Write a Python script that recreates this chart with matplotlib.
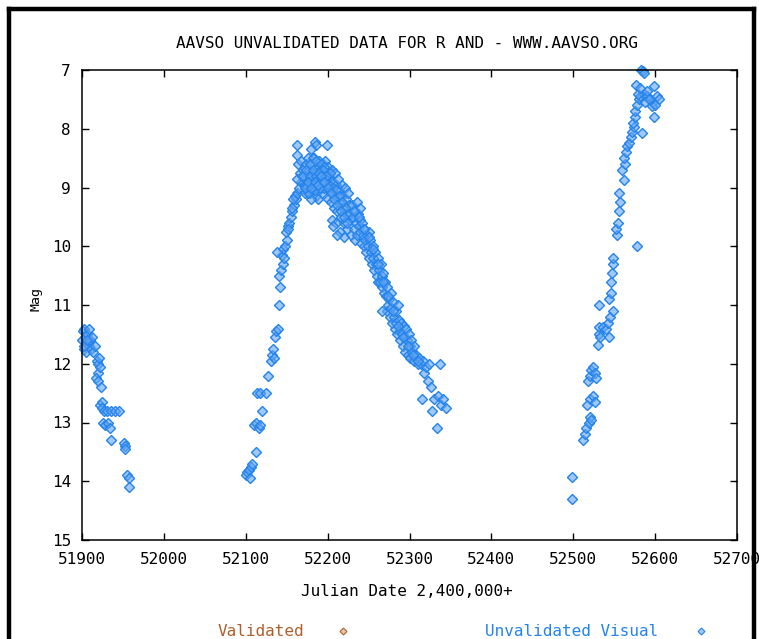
import matplotlib
matplotlib.use("Agg")
import matplotlib.pyplot as plt
from matplotlib.lines import Line2D

# AAVSO light curve of R And
season1_jd = [51900, 51901, 51902, 51903, 51904, 51905, 51906, 51907, 51908, 51909,
              51910, 51911, 51912, 51914, 51916, 51918, 51920, 51921, 51919, 51922,
              51917, 51920, 51923, 51922, 51924, 51925, 51927, 51931, 51935, 51940,
              51945, 51926, 51928, 51932, 51934, 51935, 51951, 51953, 51952, 51955,
              51957, 51958, 51903, 51906]
season1_mag = [11.6, 11.45, 11.75, 11.4, 11.55, 11.8, 11.5, 11.65, 11.7, 11.4,
               11.6, 11.75, 11.55, 11.8, 11.7, 11.95, 12.0, 11.9, 12.15, 12.05,
               12.25, 12.3, 12.4, 12.7, 12.65, 12.75, 12.8, 12.8, 12.8, 12.8,
               12.8, 13.0, 13.05, 13.0, 13.1, 13.3, 13.35, 13.4, 13.45, 13.9,
               13.95, 14.1, 11.7, 11.6]

rise_jd = [52100, 52102, 52104, 52105, 52107, 52108, 52113, 52110, 52112, 52116,
           52118, 52120, 52114, 52117, 52125, 52127, 52131, 52132, 52133, 52134,
           52136, 52137, 52139, 52140, 52142, 52141, 52143, 52145, 52144, 52146,
           52148, 52150, 52149, 52151, 52153, 52155, 52157, 52159, 52161, 52163,
           52165, 52160, 52167, 52166, 52164, 52163, 52163, 52138, 52147, 52152,
           52156, 52158, 52162]
rise_mag = [13.9, 13.85, 13.8, 13.95, 13.75, 13.7, 13.5, 13.05, 13.0, 13.1,
            13.05, 12.8, 12.5, 12.5, 12.5, 12.2, 11.95, 11.85, 11.75, 11.9,
            11.55, 11.45, 11.4, 11.0, 10.7, 10.5, 10.4, 10.3, 10.15, 10.05,
            10.0, 9.9, 9.75, 9.65, 9.6, 9.5, 9.4, 9.3, 9.2, 9.1,
            9.0, 9.15, 8.9, 8.75, 8.6, 8.45, 8.28, 10.1, 10.2, 9.7,
            9.35, 9.2, 8.85]

peak_jd = [52168, 52170, 52171, 52172, 52173, 52174, 52175, 52176, 52177, 52178,
           52179, 52180, 52181, 52182, 52183, 52184, 52185, 52186, 52187, 52188,
           52189, 52190, 52191, 52192, 52193, 52194, 52195, 52196, 52197, 52198,
           52199, 52200, 52201, 52202, 52203, 52204, 52205, 52206, 52207, 52208,
           52209, 52210, 52211, 52212, 52213, 52214, 52215, 52216, 52217, 52218,
           52219, 52220, 52221, 52222, 52223, 52224, 52225, 52226, 52227, 52228,
           52182, 52178, 52186, 52192, 52196, 52188, 52180, 52184, 52191, 52176,
           52172, 52169, 52174, 52205, 52210, 52215, 52220, 52212, 52207, 52184,
           52186, 52199, 52180, 52189, 52194, 52197, 52203, 52201,
           52170, 52174, 52178, 52182, 52186, 52190, 52194, 52198, 52202, 52206,
           52210, 52214, 52218, 52222, 52226, 52172, 52176, 52180, 52184, 52188,
           52192, 52196, 52200, 52204, 52208, 52212, 52216, 52220, 52224]
peak_mag = [8.55, 8.7, 8.95, 9.1, 8.6, 8.8, 9.0, 8.5, 8.7, 8.9,
            9.1, 8.6, 8.8, 9.0, 8.5, 8.75, 8.95, 9.15, 8.65, 8.85,
            9.05, 8.55, 8.7, 8.9, 9.1, 8.6, 8.8, 9.0, 8.55, 8.75,
            8.95, 9.2, 8.65, 8.85, 9.05, 9.25, 8.7, 8.9, 9.1, 9.35,
            8.75, 8.95, 9.15, 9.4, 8.85, 9.05, 9.25, 9.5, 8.95, 9.15,
            9.35, 9.6, 9.0, 9.2, 9.45, 9.7, 9.1, 9.3, 9.55, 9.8,
            8.5, 8.6, 8.55, 8.6, 8.65, 9.2, 9.2, 9.05, 9.0, 9.1,
            8.85, 8.8, 8.95, 9.55, 9.6, 9.75, 9.85, 9.8, 9.65, 8.22,
            8.28, 8.28, 8.35, 8.8, 8.7, 8.85, 8.75, 8.95,
            8.8, 8.7, 8.8, 8.7, 8.8, 8.75, 8.9, 8.8, 8.95, 9.0,
            9.05, 9.15, 9.25, 9.35, 9.45, 9.0, 8.9, 9.0, 8.9, 8.95,
            8.8, 8.9, 9.0, 9.1, 9.2, 9.3, 9.4, 9.5, 9.6]

decline_jd = [52230, 52231, 52232, 52233, 52234, 52235, 52236, 52237, 52238, 52239,
              52240, 52241, 52242, 52243, 52244, 52245, 52246, 52247, 52248, 52249,
              52250, 52251, 52252, 52253, 52254, 52255, 52256, 52257, 52258, 52259,
              52260, 52261, 52262, 52263, 52264, 52265, 52266, 52267, 52268, 52269,
              52270, 52271, 52272, 52273, 52274, 52275, 52276, 52277, 52278, 52279,
              52280, 52281, 52282, 52283, 52284, 52285, 52286, 52287, 52288, 52289,
              52290, 52291, 52292, 52293, 52294, 52295, 52296, 52297, 52298, 52299,
              52300, 52301, 52302, 52303, 52305, 52306, 52308, 52310, 52312, 52314,
              52316, 52318, 52320, 52322, 52324, 52326, 52328, 52330, 52333, 52335,
              52337, 52339, 52341, 52344, 52315, 52236, 52240, 52266,
              52232, 52238, 52244, 52250, 52256, 52262, 52268, 52274, 52280, 52286,
              52292, 52298, 52304, 52310]
decline_mag = [9.3, 9.5, 9.7, 9.9, 9.4, 9.6, 9.8, 9.45, 9.65, 9.55,
               9.75, 9.95, 9.6, 9.8, 10.0, 9.7, 9.9, 10.1, 9.8, 10.0,
               9.75, 10.2, 9.9, 10.1, 10.3, 10.0, 10.2, 10.4, 10.1, 10.3,
               10.5, 10.2, 10.6, 10.4, 10.6, 10.3, 10.5, 10.7, 10.45, 10.8,
               10.6, 10.85, 11.1, 10.7, 11.0, 10.9, 11.2, 10.8, 11.05, 11.3,
               10.95, 11.2, 11.4, 11.1, 11.3, 11.5, 11.0, 11.25, 11.45, 11.6,
               11.3, 11.5, 11.7, 11.35, 11.55, 11.8, 11.4, 11.6, 11.85, 11.5,
               11.7, 11.9, 11.6, 11.8, 11.95, 11.7, 11.85, 12.0, 11.9, 12.0,
               11.95, 12.15, 12.05, 12.3, 12.0, 12.4, 12.8, 12.6, 13.1, 12.55,
               12.0, 12.7, 12.6, 12.75, 12.6, 9.25, 9.35, 11.1,
               9.4, 9.5, 9.7, 9.85, 10.05, 10.3, 10.6, 10.85, 11.1, 11.35,
               11.55, 11.7, 11.85, 11.95]

season3_jd = [52499, 52499, 52512, 52514, 52516, 52519, 52521, 52522, 52517, 52520,
              52524, 52526, 52518, 52520, 52522, 52524, 52526, 52528, 52530, 52532,
              52533, 52544, 52531, 52536, 52540, 52542, 52545, 52548, 52532, 52544,
              52546, 52546, 52547, 52548, 52549, 52578, 52554, 52552, 52555, 52556,
              52557, 52556, 52562, 52560, 52563, 52562, 52565, 52566, 52568, 52570,
              52572, 52574, 52584, 52573, 52575, 52576, 52578, 52580, 52577, 52582,
              52586, 52590, 52594, 52598, 52602, 52605, 52599, 52599, 52583, 52585,
              52587, 52596, 52600, 52590, 52588, 52579, 52581, 52592]
season3_mag = [13.93, 14.3, 13.3, 13.2, 13.1, 13.0, 12.9, 12.95, 12.7, 12.6,
               12.55, 12.65, 12.3, 12.2, 12.1, 12.05, 12.15, 12.25, 11.68, 11.5,
               11.55, 11.55, 11.38, 11.38, 11.4, 11.3, 11.2, 11.1, 11.0, 10.9,
               10.8, 10.6, 10.45, 10.3, 10.2, 10.0, 9.8, 9.7, 9.6, 9.4,
               9.25, 9.1, 8.87, 8.7, 8.6, 8.5, 8.4, 8.3, 8.25, 8.14,
               8.05, 7.97, 8.07, 7.9, 7.8, 7.7, 7.6, 7.5, 7.26, 7.45,
               7.4, 7.45, 7.5, 7.55, 7.45, 7.5, 7.28, 7.8, 7.0, 7.02,
               7.05, 7.62, 7.6, 7.35, 7.55, 7.4, 7.3, 7.5]

validated_jd = []
validated_mag = []

unval_jd = season1_jd + rise_jd + peak_jd + decline_jd + season3_jd
unval_mag = season1_mag + rise_mag + peak_mag + decline_mag + season3_mag

x_ticks = [51900, 52000, 52100, 52200, 52300, 52400, 52500, 52600, 52700]
y_ticks = [7, 8, 9, 10, 11, 12, 13, 14, 15]

W, H = 759, 639
mono = "DejaVu Sans Mono"
blue = "#2484ec"
face = (0.38, 0.64, 0.94, 0.6)
brown = "#b0602e"

fig = plt.figure(figsize=(W / 100, H / 100), dpi=100, facecolor="white")
ax = fig.add_axes([82 / W, 1 - 540 / H, (737 - 82) / W, (540 - 70) / H])

ax.plot(validated_jd, validated_mag, ls="none", marker="D", ms=3.5,
        mfc="#e8c8a8", mec=brown, mew=0.8)
ax.plot(unval_jd, unval_mag, ls="none", marker="D", ms=4.6,
        mfc=face, mec=blue, mew=1.0, clip_on=False)

ax.set_xlim(51900, 52700)
ax.set_ylim(15, 7)
ax.set_xticks(x_ticks)
ax.set_yticks(y_ticks)
ax.set_xticklabels([str(v) for v in x_ticks], family=mono, fontsize=11.5)
ax.set_yticklabels([str(v) for v in y_ticks], family=mono, fontsize=11.5)
ax.tick_params(direction="in", length=5, width=1, top=True, right=True)
ax.tick_params(axis="x", pad=9)
ax.tick_params(axis="y", pad=8)
for sp in ax.spines.values():
    sp.set_linewidth(1.1)

fig.text(407 / W, 1 - 43 / H, "AAVSO UNVALIDATED DATA FOR R AND - WWW.AAVSO.ORG",
         ha="center", va="center", family=mono, fontsize=11.5)
fig.text(407 / W, 1 - 591 / H, "Julian Date 2,400,000+",
         ha="center", va="center", family=mono, fontsize=11.5)
fig.text(36 / W, 1 - 299 / H, "Mag", rotation=90,
         ha="center", va="center", family=mono, fontsize=9.5)

# legend, laid out like the gnuplot key under the plot
fig.text(218 / W, 1 - 631 / H, "Validated", ha="left", va="center",
         family=mono, fontsize=11.5, color=brown)
fig.add_artist(Line2D([343 / W], [1 - 631 / H], ls="none", marker="D", ms=3.5,
                      mfc="#e8c8a8", mec=brown, mew=0.8, transform=fig.transFigure))
fig.text(485 / W, 1 - 631 / H, "Unvalidated Visual", ha="left", va="center",
         family=mono, fontsize=11.5, color=blue)
fig.add_artist(Line2D([701 / W], [1 - 631 / H], ls="none", marker="D", ms=3.5,
                      mfc=face, mec=blue, mew=0.8, transform=fig.transFigure))

# thick black frame round the picture, kept under the tick labels
frame_kw = dict(color="black", lw=3.2, transform=fig.transFigure,
                solid_capstyle="projecting", zorder=-1)
fig.add_artist(Line2D([8.5 / W, 8.5 / W], [0, 1 - 8.7 / H], **frame_kw))
fig.add_artist(Line2D([8.5 / W, 754 / W], [1 - 8.7 / H, 1 - 8.7 / H], **frame_kw))
fig.add_artist(Line2D([754 / W, 754 / W], [0, 1 - 8.7 / H], **frame_kw))

fig.savefig("out.png", dpi=100)
